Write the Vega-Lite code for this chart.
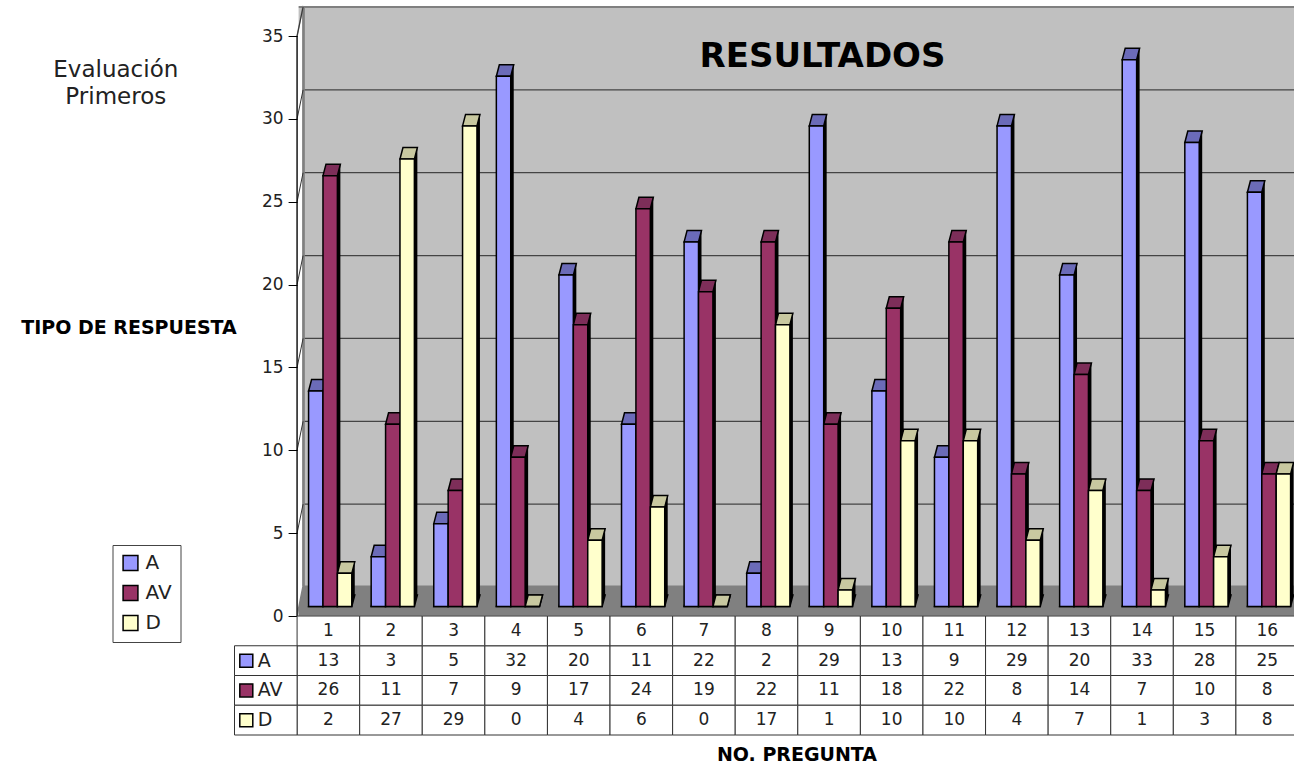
{
"$schema":"https://vega.github.io/schema/vega-lite/v6.json",
"padding":{"left":20.5,"top":3,"right":0,"bottom":0},
"background":"white",
"spacing":0,
"bounds":"flush",
"config":{"font":"DejaVu Sans","view":{"stroke":null}},
"datasets":{
"marcas":[{"marca":5},{"marca":10},{"marca":15},{"marca":20},{"marca":25},{"marca":30},{"marca":35}],
"series":[{"serie":"A"},{"serie":"AV"},{"serie":"D"}],
"notas":[{"nota":"Evaluación\nPrimeros"}],
"respuestas":[
{"pregunta":"1","serie":"A","valor":13},{"pregunta":"1","serie":"AV","valor":26},{"pregunta":"1","serie":"D","valor":2},
{"pregunta":"2","serie":"A","valor":3},{"pregunta":"2","serie":"AV","valor":11},{"pregunta":"2","serie":"D","valor":27},
{"pregunta":"3","serie":"A","valor":5},{"pregunta":"3","serie":"AV","valor":7},{"pregunta":"3","serie":"D","valor":29},
{"pregunta":"4","serie":"A","valor":32},{"pregunta":"4","serie":"AV","valor":9},{"pregunta":"4","serie":"D","valor":0},
{"pregunta":"5","serie":"A","valor":20},{"pregunta":"5","serie":"AV","valor":17},{"pregunta":"5","serie":"D","valor":4},
{"pregunta":"6","serie":"A","valor":11},{"pregunta":"6","serie":"AV","valor":24},{"pregunta":"6","serie":"D","valor":6},
{"pregunta":"7","serie":"A","valor":22},{"pregunta":"7","serie":"AV","valor":19},{"pregunta":"7","serie":"D","valor":0},
{"pregunta":"8","serie":"A","valor":2},{"pregunta":"8","serie":"AV","valor":22},{"pregunta":"8","serie":"D","valor":17},
{"pregunta":"9","serie":"A","valor":29},{"pregunta":"9","serie":"AV","valor":11},{"pregunta":"9","serie":"D","valor":1},
{"pregunta":"10","serie":"A","valor":13},{"pregunta":"10","serie":"AV","valor":18},{"pregunta":"10","serie":"D","valor":10},
{"pregunta":"11","serie":"A","valor":9},{"pregunta":"11","serie":"AV","valor":22},{"pregunta":"11","serie":"D","valor":10},
{"pregunta":"12","serie":"A","valor":29},{"pregunta":"12","serie":"AV","valor":8},{"pregunta":"12","serie":"D","valor":4},
{"pregunta":"13","serie":"A","valor":20},{"pregunta":"13","serie":"AV","valor":14},{"pregunta":"13","serie":"D","valor":7},
{"pregunta":"14","serie":"A","valor":33},{"pregunta":"14","serie":"AV","valor":7},{"pregunta":"14","serie":"D","valor":1},
{"pregunta":"15","serie":"A","valor":28},{"pregunta":"15","serie":"AV","valor":10},{"pregunta":"15","serie":"D","valor":3},
{"pregunta":"16","serie":"A","valor":25},{"pregunta":"16","serie":"AV","valor":8},{"pregunta":"16","serie":"D","valor":8}
]},
"vconcat":[
{
"width":1064,"height":609,
"view":{"fill":"#c0c0c0","stroke":null},
"title":{"text":"RESULTADOS","offset":-71,"dx":56,"fontSize":34,"fontWeight":"bold","color":"black"},
"resolve":{"scale":{"xOffset":"independent"}},
"layer":[
{"data":{"name":"notas"},"mark":{"type":"rule","color":"#808080","strokeWidth":30},
 "encoding":{"y":{"datum":0.93,"type":"quantitative","scale":{"domain":[0,36.75],"nice":false,"zero":false},
  "axis":{"zindex":1,"values":[0,5,10,15,20,25,30,35],"offset":-62.6,"domain":false,"grid":false,"tickSize":9,"tickColor":"black","labelFontSize":17,"labelColor":"#222222","labelPadding":5,
   "title":"TIPO DE RESPUESTA","titleAngle":0,"titleFontSize":19,"titleFontWeight":"bold","titleColor":"black","titleAlign":"center","titleBaseline":"middle","titleX":-168.6,"titleY":320}}}},
{"data":{"name":"marcas"},"mark":{"type":"rule","color":"#444444","strokeWidth":1.3,"yOffset":-29},
 "encoding":{"y":{"field":"marca","type":"quantitative"}}},
{"data":{"name":"notas"},"mark":{"type":"rule","color":"#808080","strokeWidth":2},
 "encoding":{"y":{"datum":36.75,"type":"quantitative"}}},
{"data":{"name":"notas"},"mark":{"type":"rect","fill":"white","stroke":"white","strokeWidth":3},
 "encoding":{"x":{"datum":"","type":"nominal","scale":{"domain":["","1","2","3","4","5","6","7","8","9","10","11","12","13","14","15","16"],"paddingInner":0,"paddingOuter":0},"axis":null},
  "y":{"datum":36.75,"type":"quantitative"},"y2":{"datum":0}}},
{"data":{"name":"notas"},"mark":{"type":"point","shape":"M0,0 L6,-30 L6,-610 L0,-580 Z","size":4,"filled":true,"fill":"white","stroke":"#808080","strokeWidth":1.5,"opacity":1},
 "encoding":{"x":{"datum":"1","type":"nominal","bandPosition":0,"axis":null},"y":{"datum":0,"type":"quantitative"}}},
{"data":{"name":"notas"},"mark":{"type":"rule","color":"#808080","strokeWidth":2.5,"xOffset":6.5},
 "encoding":{"x":{"datum":"1","type":"nominal","bandPosition":0,"axis":null},"y":{"datum":36.75,"type":"quantitative"},"y2":{"datum":1.81}}},
{"data":{"name":"marcas"},"mark":{"type":"point","shape":"M0,0 L6,-29","size":4,"filled":false,"stroke":"#333333","strokeWidth":1,"opacity":1},
 "encoding":{"x":{"datum":"1","type":"nominal","bandPosition":0,"axis":null},"y":{"field":"marca","type":"quantitative"}}},
{"data":{"name":"notas"},"mark":{"type":"rule","color":"black","strokeWidth":1},
 "encoding":{"x":{"datum":"1","type":"nominal","bandPosition":0,"axis":null},"y":{"datum":0,"type":"quantitative"},"y2":{"datum":35}}},
{"data":{"name":"respuestas"},"mark":{"type":"bar","color":"black","yOffset":-21,"y2Offset":-21},
 "encoding":{"x":{"field":"pregunta","type":"nominal","axis":null},
  "xOffset":{"field":"serie","type":"nominal","scale":{"paddingInner":0,"paddingOuter":0.673,"align":0.747}},
  "y":{"field":"valor","type":"quantitative","stack":null},"y2":{"datum":0}}},
{"layer":[
{"data":{"name":"respuestas"},"mark":{"type":"point","shape":"M-7.2,0 L7.2,0 L10.2,-11.5 L-4.2,-11.5 Z","size":4,"filled":true,"fill":"black","stroke":"black","strokeWidth":1.5,"opacity":1,"yOffset":-9.5},
 "encoding":{"x":{"field":"pregunta","type":"nominal","axis":null},"xOffset":{"field":"serie","type":"nominal","scale":{"paddingInner":0,"paddingOuter":0.673,"align":0.593}},"y":{"datum":0,"type":"quantitative"}}},
{"data":{"name":"respuestas"},"transform":[{"filter":"datum.serie==='A'"}],"mark":{"type":"point","shape":"M-7.2,0 L7.2,0 L10.2,-11.5 L-4.2,-11.5 Z","size":4,"filled":true,"fill":"#6b6bb8","stroke":"black","strokeWidth":1.5,"opacity":1,"yOffset":-9.5},
 "encoding":{"x":{"field":"pregunta","type":"nominal","axis":null},"xOffset":{"field":"serie","type":"nominal"},"y":{"field":"valor","type":"quantitative"}}},
{"data":{"name":"respuestas"},"transform":[{"filter":"datum.serie==='AV'"}],"mark":{"type":"point","shape":"M-7.2,0 L7.2,0 L10.2,-11.5 L-4.2,-11.5 Z","size":4,"filled":true,"fill":"#7d2e59","stroke":"black","strokeWidth":1.5,"opacity":1,"yOffset":-9.5},
 "encoding":{"x":{"field":"pregunta","type":"nominal","axis":null},"xOffset":{"field":"serie","type":"nominal"},"y":{"field":"valor","type":"quantitative"}}},
{"data":{"name":"respuestas"},"transform":[{"filter":"datum.serie==='D'"}],"mark":{"type":"point","shape":"M-7.2,0 L7.2,0 L10.2,-11.5 L-4.2,-11.5 Z","size":4,"filled":true,"fill":"#c8c8a0","stroke":"black","strokeWidth":1.5,"opacity":1,"yOffset":-9.5},
 "encoding":{"x":{"field":"pregunta","type":"nominal","axis":null},"xOffset":{"field":"serie","type":"nominal"},"y":{"field":"valor","type":"quantitative"}}},
{"data":{"name":"respuestas"},"mark":{"type":"bar","stroke":"black","strokeWidth":1.5,"yOffset":-9.5,"y2Offset":-9.5},
 "encoding":{"x":{"field":"pregunta","type":"nominal","axis":null},
  "xOffset":{"field":"serie","type":"nominal"},
  "y":{"field":"valor","type":"quantitative","stack":null},"y2":{"datum":0},
  "color":{"field":"serie","type":"nominal","scale":{"domain":["A","AV","D"],"range":["#9999ff","#993366","#ffffcc"]},
   "legend":{"title":null,"orient":"none","legendX":-122,"legendY":538,"fillColor":"white","strokeColor":"#444444","padding":8,"labelFontSize":20,"labelColor":"#222222","symbolType":"square","symbolSize":220,"symbolStrokeColor":"black","symbolStrokeWidth":1.5,"rowPadding":8,"labelOffset":5}}}}
]},
{"data":{"name":"notas"},"mark":{"type":"text","fontSize":23,"lineBreak":"\n","lineHeight":27,"color":"#222222","xOffset":-150},
 "encoding":{"x":{"datum":"","type":"nominal","axis":null},"y":{"datum":32.95,"type":"quantitative"},"text":{"field":"nota"}}}
]
},
{
"width":1064,"height":119,
"data":{"name":"respuestas"},
"layer":[
{"mark":{"type":"rect","fill":"white","stroke":"#333333","strokeWidth":1},
 "encoding":{"x":{"field":"pregunta","type":"nominal","scale":{"domain":["","1","2","3","4","5","6","7","8","9","10","11","12","13","14","15","16"],"paddingInner":0,"paddingOuter":0},
   "axis":{"labels":false,"ticks":false,"domain":false,"grid":false,"title":"NO. PREGUNTA","titleFontSize":19,"titleFontWeight":"bold","titleColor":"black","titleX":562,"titleY":19.5,"titleBaseline":"middle"}},
  "y":{"field":"serie","type":"nominal","scale":{"domain":["#","A","AV","D"],"paddingInner":0,"paddingOuter":0},"axis":null}}},
{"transform":[{"filter":"datum.serie==='A'"}],"mark":{"type":"rect","fill":"white","stroke":"#333333","strokeWidth":1},
 "encoding":{"x":{"field":"pregunta","type":"nominal"},"y":{"datum":"#","type":"nominal","axis":null}}},
{"data":{"name":"series"},"mark":{"type":"rect","fill":"white","stroke":"#333333","strokeWidth":1},
 "encoding":{"x":{"datum":"","type":"nominal"},"y":{"field":"serie","type":"nominal","axis":null}}},
{"mark":{"type":"text","fontSize":17,"color":"#222222"},
 "encoding":{"x":{"field":"pregunta","type":"nominal"},"y":{"field":"serie","type":"nominal","axis":null},"text":{"field":"valor"}}},
{"transform":[{"filter":"datum.serie==='A'"}],"mark":{"type":"text","fontSize":17,"color":"#222222"},
 "encoding":{"x":{"field":"pregunta","type":"nominal"},"y":{"datum":"#","type":"nominal","axis":null},"text":{"field":"pregunta"}}},
{"data":{"name":"series"},"mark":{"type":"point","shape":"square","size":169,"filled":true,"stroke":"black","strokeWidth":1.5,"opacity":1,"xOffset":-19.5},
 "encoding":{"x":{"datum":"","type":"nominal"},"y":{"field":"serie","type":"nominal","axis":null},"color":{"field":"serie","type":"nominal"}}},
{"data":{"name":"series"},"mark":{"type":"text","fontSize":19,"align":"left","color":"#222222","xOffset":-8},
 "encoding":{"x":{"datum":"","type":"nominal"},"y":{"field":"serie","type":"nominal","axis":null},"text":{"field":"serie"}}}
]
}
]
}
